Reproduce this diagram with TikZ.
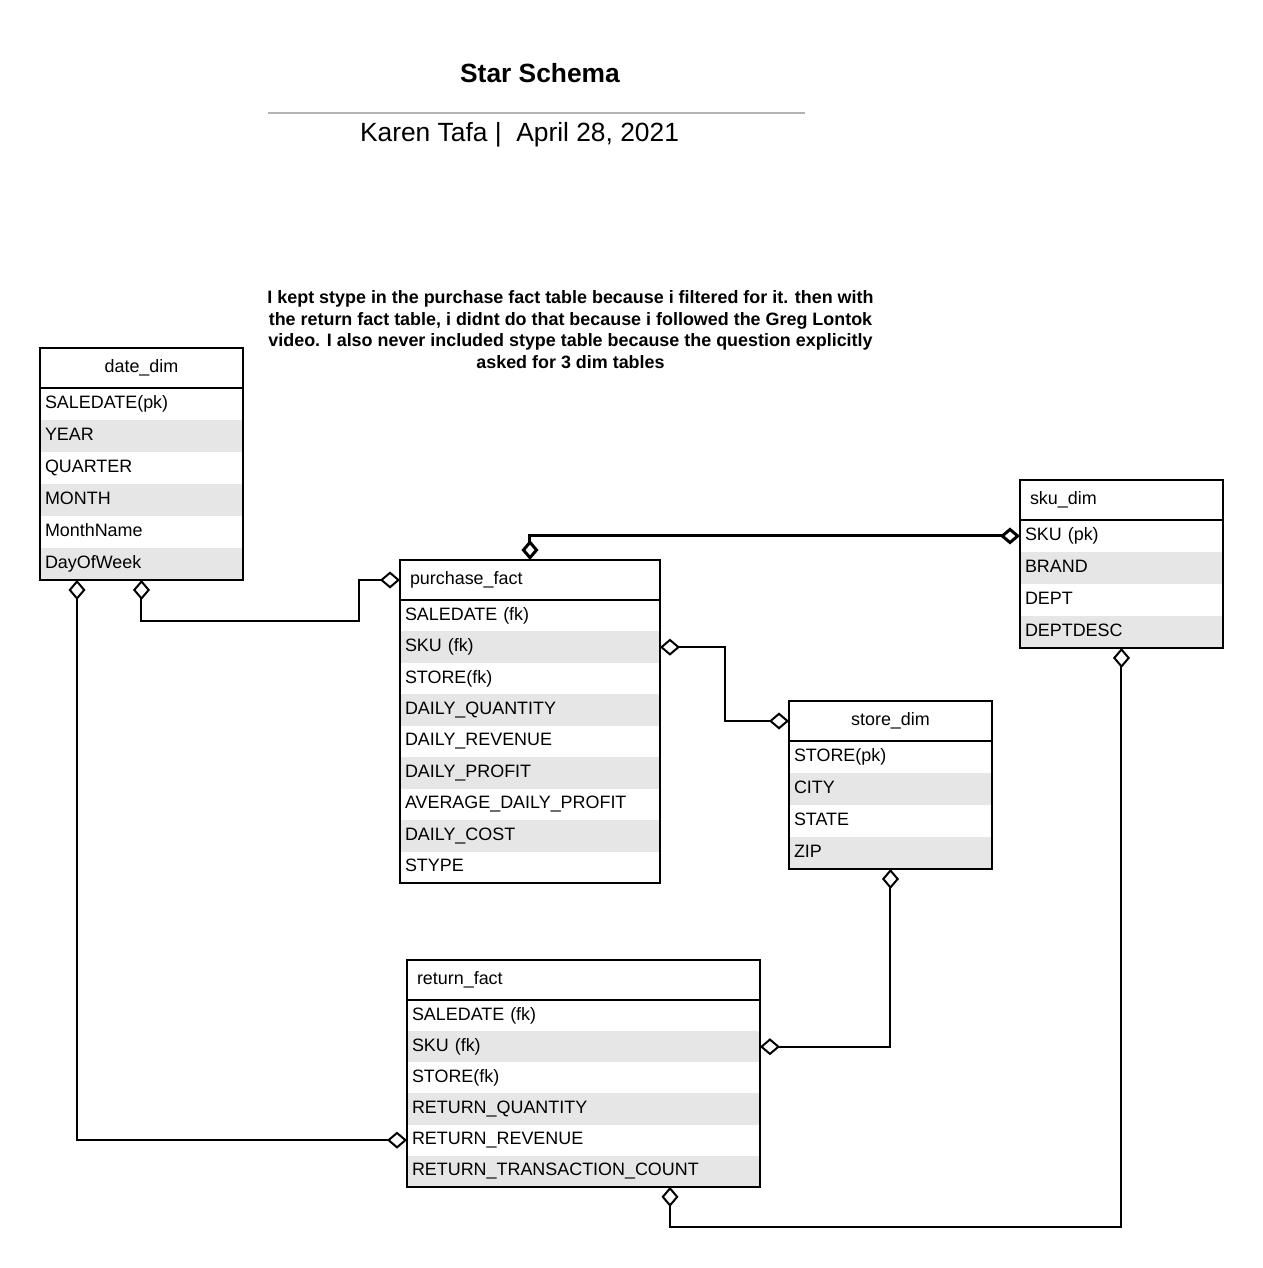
\documentclass[tikz,border=0pt]{standalone}
\usepackage{fontspec}
\setmainfont{Liberation Sans}
\usetikzlibrary{arrows.meta,positioning,fit,calc}
\definecolor{rowgray}{HTML}{E6E6E6}
\definecolor{rulegray}{HTML}{B3B3B3}
\newcommand{\tblfont}{\fontsize{10.2}{12}\selectfont}

\tikzset{
  hdr/.style={draw, line width=0.04cm, anchor=north west, inner xsep=0.2cm,
    inner ysep=0pt, outer sep=0pt, minimum height=0.8cm, text width=#1,
    text height=0.26cm, text depth=0.08cm, font=\tblfont},
  fld/.style={anchor=north west, inner xsep=0.1cm, inner ysep=0pt, outer sep=0pt,
    text width=#1, text height=0.26cm, text depth=0.08cm, font=\tblfont},
  alt/.style={fill=rowgray},
  tbl/.style={draw, line width=0.04cm, inner sep=0pt, outer sep=0pt},
  rel/.style={line width=0.04cm,
    {Diamond[open,length=0.4cm,width=0.34cm]}-{Diamond[open,length=0.4cm,width=0.34cm]}},
}

\begin{document}
\begin{tikzpicture}[x=0.02cm, y=-0.02cm]
  \fill[white] (0,0) rectangle (1263,1268);
  \useasboundingbox (0,0) rectangle (1263,1268);

  % title
  \node[font=\fontsize{15}{18}\selectfont\bfseries] (title) at (540,73) {Star Schema};
  \node[font=\fontsize{15}{18}\selectfont] (byline) at (519.5,135) {Karen Tafa |~ April 28, 2021};
  \draw[rulegray, line width=0.04cm] (268,113) -- (805,113);
  \node[font=\fontsize{10.2}{12.35}\selectfont\bfseries, align=center] (note) at (570.5,329.5)
    {I kept stype in the purchase fact table because i filtered for it. then with\\
     the return fact table, i didnt do that because i followed the Greg Lontok\\
     video. I also never included stype table because the question explicitly\\
     asked for 3 dim tables};

  % date_dim
  \node[hdr=3.66cm, align=center] (datehd) at (40,348) {date\_dim};
  \node[fld=3.86cm, minimum height=0.64cm] (d1) at (datehd.south west) {SALEDATE(pk)};
  \node[fld=3.86cm, minimum height=0.64cm, alt] (d2) at (d1.south west) {YEAR};
  \node[fld=3.86cm, minimum height=0.64cm] (d3) at (d2.south west) {QUARTER};
  \node[fld=3.86cm, minimum height=0.64cm, alt] (d4) at (d3.south west) {MONTH};
  \node[fld=3.86cm, minimum height=0.64cm] (d5) at (d4.south west) {MonthName};
  \node[fld=3.86cm, minimum height=0.64cm, alt] (d6) at (d5.south west) {DayOfWeek};
  \node[tbl, fit=(datehd)(d6)] (date) {};

  % purchase_fact
  \node[hdr=4.8cm] (purchhd) at (400,560) {purchase\_fact};
  \node[fld=5cm, minimum height=0.629cm] (p1) at (purchhd.south west) {SALEDATE (fk)};
  \node[fld=5cm, minimum height=0.629cm, alt] (p2) at (p1.south west) {SKU (fk)};
  \node[fld=5cm, minimum height=0.629cm] (p3) at (p2.south west) {STORE(fk)};
  \node[fld=5cm, minimum height=0.629cm, alt] (p4) at (p3.south west) {DAILY\_QUANTITY};
  \node[fld=5cm, minimum height=0.629cm] (p5) at (p4.south west) {DAILY\_REVENUE};
  \node[fld=5cm, minimum height=0.629cm, alt] (p6) at (p5.south west) {DAILY\_PROFIT};
  \node[fld=5cm, minimum height=0.629cm] (p7) at (p6.south west) {AVERAGE\_DAILY\_PROFIT};
  \node[fld=5cm, minimum height=0.629cm, alt] (p8) at (p7.south west) {DAILY\_COST};
  \node[fld=5cm, minimum height=0.629cm] (p9) at (p8.south west) {STYPE};
  \node[tbl, fit=(purchhd)(p9)] (purch) {};

  % sku_dim
  \node[hdr=3.66cm] (skuhd) at (1020,480) {sku\_dim};
  \node[fld=3.86cm, minimum height=0.64cm] (s1) at (skuhd.south west) {SKU (pk)};
  \node[fld=3.86cm, minimum height=0.64cm, alt] (s2) at (s1.south west) {BRAND};
  \node[fld=3.86cm, minimum height=0.64cm] (s3) at (s2.south west) {DEPT};
  \node[fld=3.86cm, minimum height=0.64cm, alt] (s4) at (s3.south west) {DEPTDESC};
  \node[tbl, fit=(skuhd)(s4)] (sku) {};

  % store_dim
  \node[hdr=3.66cm, align=center] (storehd) at (789,701) {store\_dim};
  \node[fld=3.86cm, minimum height=0.64cm] (t1) at (storehd.south west) {STORE(pk)};
  \node[fld=3.86cm, minimum height=0.64cm, alt] (t2) at (t1.south west) {CITY};
  \node[fld=3.86cm, minimum height=0.64cm] (t3) at (t2.south west) {STATE};
  \node[fld=3.86cm, minimum height=0.64cm, alt] (t4) at (t3.south west) {ZIP};
  \node[tbl, fit=(storehd)(t4)] (store) {};

  % return_fact
  \node[hdr=6.66cm] (rethd) at (407,960) {return\_fact};
  \node[fld=6.86cm, minimum height=0.623cm] (r1) at (rethd.south west) {SALEDATE (fk)};
  \node[fld=6.86cm, minimum height=0.623cm, alt] (r2) at (r1.south west) {SKU (fk)};
  \node[fld=6.86cm, minimum height=0.623cm] (r3) at (r2.south west) {STORE(fk)};
  \node[fld=6.86cm, minimum height=0.623cm, alt] (r4) at (r3.south west) {RETURN\_QUANTITY};
  \node[fld=6.86cm, minimum height=0.623cm] (r5) at (r4.south west) {RETURN\_REVENUE};
  \node[fld=6.86cm, minimum height=0.623cm, alt] (r6) at (r5.south west) {RETURN\_TRANSACTION\_COUNT};
  \node[tbl, fit=(rethd)(r6)] (ret) {};

  % relations
  \draw[rel] (date.south) -- ++(0,41) -| ($(purchhd.west)+(-41,0)$) -- (purchhd.west);
  \draw[rel] ($(date.south west)+(37,0)$) |- (r5.west);
  \draw[rel, line width=0.06cm] (purchhd.north) |- (s1.west);
  \draw[rel] (p2.east) -- ++(65,0) |- (storehd.west);
  \draw[rel] (store.south) |- (r2.east);
  \draw[rel] (sku.south) -- ++(0,579) -| ($(ret.south west)+(263,0)$);
\end{tikzpicture}
\end{document}
